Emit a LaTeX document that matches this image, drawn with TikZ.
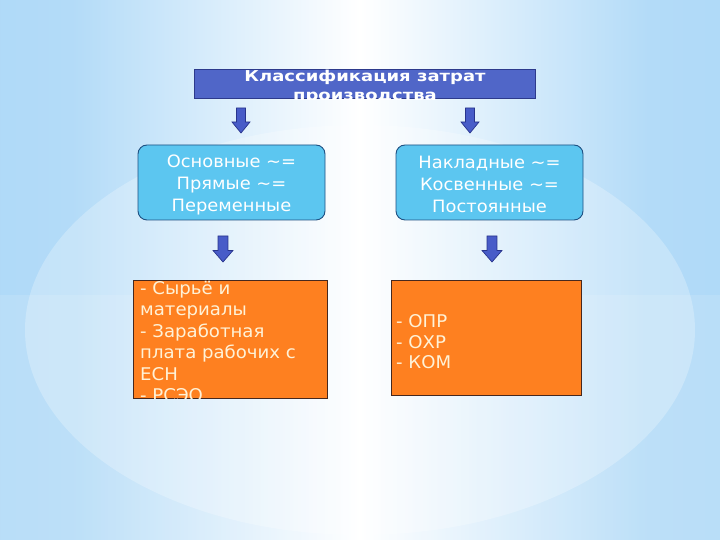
\documentclass[tikz,border=0pt]{standalone}
\usepackage{fontspec}
\setmainfont{DejaVu Sans}
\newfontfamily\boxfont[FakeStretch=1.05]{DejaVu Sans}
\newfontfamily\listfont[FakeStretch=1.035]{DejaVu Sans}
\newfontfamily\titlefont[FakeStretch=1.2]{DejaVu Sans}
\definecolor{bgblue}{RGB}{160,210,246}
\definecolor{titleblue}{RGB}{80,102,200}
\definecolor{titleedge}{RGB}{45,58,140}
\definecolor{softcyan}{RGB}{92,198,240}
\definecolor{softedge}{RGB}{30,80,130}
\definecolor{boxorange}{RGB}{254,128,32}
\definecolor{orangeedge}{RGB}{70,40,30}
\definecolor{cream}{RGB}{255,242,215}
\definecolor{arrowblue}{RGB}{72,92,200}
\definecolor{arrowedge}{RGB}{40,52,140}
\pgfdeclarehorizontalshading{bgh}{100bp}{color(0bp)=(bgblue); color(30bp)=(bgblue!80!white); color(50bp)=(white); color(70bp)=(bgblue!80!white); color(100bp)=(bgblue)}
\tikzset{
  titlebox/.style={draw=titleedge, fill=titleblue, minimum width=341pt, minimum height=29pt, inner sep=0pt},
  softbox/.style={draw=softedge, line width=0.9pt, fill=softcyan, rounded corners=9pt,
    minimum width=187pt, minimum height=75pt, inner sep=0pt},
  softtext/.style={align=center, text=white, inner sep=0pt, font=\boxfont\fontsize{17}{22}\selectfont},
  orangebox/.style={draw=orangeedge, line width=0.6pt, fill=boxorange, inner sep=0pt},
  listtext/.style={align=left, text=cream, inner sep=0pt, font=\listfont\fontsize{17.5}{20.6}\selectfont},
  arrowstyle/.style={fill=arrowblue, draw=arrowedge, line width=0.7pt, line join=miter},
  blockarrow/.pic={\draw[arrowstyle] (-4.5,0) -- (4.5,0) -- (4.5,-14) -- (9,-14) -- (0,-25) -- (-9,-14) -- (-4.5,-14) -- cycle;}
}
\begin{document}
\begin{tikzpicture}[x=1pt,y=1pt]
\useasboundingbox (0,0) rectangle (720,540);
% background
\shade[shading=bgh] (0,0) rectangle (720,540);
\fill[white, opacity=0.25] (360,210) ellipse [x radius=335, y radius=205];
\fill[white, opacity=0.12] (0,0) rectangle (720,245);

% title
\node[titlebox] (title) at (364.5,456.5) {};
\begin{scope}
  \clip (150,440) rectangle (580,500);
  \node[text=white, align=center, inner sep=0pt,
        font=\titlefont\bfseries\fontsize{15}{19}\selectfont] (titletext) at (365,453)
        {Классификация затрат\\производства};
\end{scope}

% arrows row 1
\coordinate (a1) at (241,432);
\coordinate (a2) at (470,432);
\pic at (a1) {blockarrow};
\pic at (a2) {blockarrow};

% rounded boxes
\node[softbox] (main) at (231.5,357.5) {};
\node[softtext] (maintext) at ([yshift=-2pt]main.center) {Основные \char"007E=\\Прямые \char"007E=\\Переменные};
\node[softbox] (over) at (489.5,357.5) {};
\node[softtext] (overtext) at ([yshift=-2pt]over.center) {Накладные \char"007E=\\Косвенные \char"007E=\\Постоянные};

% arrows row 2
\coordinate (a3) at (223,304);
\coordinate (a4) at (492,304);
\pic[xscale=1.1, yscale=1.04] at (a3) {blockarrow};
\pic[xscale=1.1, yscale=1.04] at (a4) {blockarrow};

% orange boxes
\node[orangebox, minimum width=194pt, minimum height=118pt] (left) at (230,201) {};
\node[orangebox, minimum width=190pt, minimum height=115pt] (right) at (486,202.5) {};
\begin{scope}
  \clip (left.south west) rectangle (left.north east);
  \node[listtext, anchor=north west, font=\listfont\fontsize{17.5}{21.5}\selectfont] (lefttext) at (140,259)
    {- Сырьё и\\материалы\\- Заработная\\плата рабочих с\\ЕСН\\- РСЭО};
\end{scope}
\node[listtext, anchor=west] (righttext) at (396,198)
  {- ОПР\\- ОХР\\- КОМ};
\end{tikzpicture}
\end{document}
